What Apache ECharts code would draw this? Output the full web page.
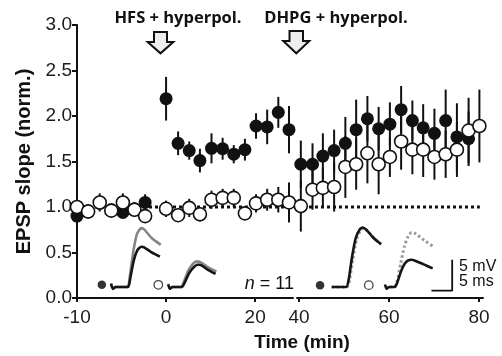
<!DOCTYPE html>
<html><head><meta charset="utf-8">
<script src="https://cdn.jsdelivr.net/npm/echarts@6/dist/echarts.min.js"></script>
<style>html,body{margin:0;padding:0;background:#fff}#c{width:502px;height:356px}</style>
</head><body><div id="c"></div>
<script>
// ---------------- data ----------------
// time (min) as labelled on the broken axis
const timesLeft = [-10,-8.75,-7.45,-6.15,-4.85,-3.55,-2.35,0,2.7,5.2,7.6,10.2,12.7,15.2,17.7,20.2,22.7,25.2,27.6];
const hfsLeft    = [0.90,0.96,1.04,0.97,0.94,0.98,1.05,2.19,1.70,1.62,1.51,1.645,1.64,1.58,1.63,1.89,1.88,2.04,1.85];
const hfsLeftErr = [0.06,0.06,0.06,0.06,0.06,0.06,0.09,0.24,0.13,0.10,0.13,0.165,0.12,0.10,0.12,0.14,0.19,0.17,0.26];
const ctlLeft    = [1.00,0.95,1.05,0.96,1.05,0.97,0.90,0.98,0.91,0.99,0.92,1.08,1.10,1.10,0.93,1.04,1.08,1.08,1.05];
const ctlLeftErr = [0.08,0.08,0.10,0.07,0.10,0.08,0.07,0.09,0.07,0.10,0.08,0.10,0.10,0.10,0.07,0.10,0.12,0.14,0.22];

const timesRight = [40.4,43,45.3,47.8,50.3,52.7,55.2,57.7,60.2,62.7,65.2,67.6,70.1,72.6,75.1,77.7,80.1];
const hfsRight    = [1.47,1.47,1.56,1.62,1.70,1.85,1.97,1.86,1.91,2.07,1.95,1.87,1.81,1.95,1.77,1.75,null];
const hfsRightErr = [0.26,0.23,0.25,0.23,0.29,0.33,0.25,0.24,0.24,0.26,0.22,0.26,0.27,0.34,0.37,0.30,null];
const ctlRight    = [1.01,1.19,1.21,1.22,1.44,1.47,1.59,1.47,1.55,1.72,1.63,1.63,1.55,1.58,1.63,1.84,1.89];
const ctlRightErr = [0.28,0.22,0.22,0.27,0.34,0.28,0.33,0.33,0.22,0.31,0.27,0.30,0.25,0.26,0.30,0.36,0.40];

const xTicksLeft = [-10, 0, 20];
const xTicksRight = [40, 60, 80];
const baseline = 1.0;

// inset EPSP traces: [ms, mV]
const trace1Gray  = [[0,0.6],[0.5,-0.3],[1.1,0],[4.0,0],[4.6,2.0],[5.4,5.8],[6.3,8.6],[7.3,9.5],[8.0,9.3],[9.8,7.9],[12.0,6.8]];
const trace1Black = [[0,0.5],[0.5,-0.3],[1.1,0],[4.1,0],[4.7,1.6],[5.5,4.3],[6.4,6.0],[7.3,6.5],[8.0,6.4],[9.8,5.6],[11.8,4.9]];
const trace2Gray  = [[0,0.5],[0.4,-0.3],[1.0,0],[3.1,0],[3.9,1.1],[4.8,2.6],[5.8,3.6],[6.6,4.1],[7.4,4.1],[9.3,3.3],[11.6,2.5]];
const trace2Black = [[0,0.4],[0.4,-0.3],[1.0,0],[3.3,0],[4.1,0.9],[5.0,2.2],[6.0,3.1],[7.0,3.6],[7.6,3.6],[9.3,2.9],[11.4,2.1]];
const trace3Black = [[0,0],[3.5,0],[4.1,1.2],[4.9,4.8],[5.8,7.9],[6.8,9.3],[7.5,9.6],[8.4,9.2],[10.1,7.9],[11.9,6.9]];
const trace3Gray  = [[0,0],[3.7,0],[4.3,1.1],[5.1,4.5],[6.0,7.7],[7.0,9.2],[7.7,9.5],[8.6,9.1],[10.2,7.9],[11.9,6.9]];
const trace4Gray  = [[0,0],[2.3,0],[3.0,1.1],[3.8,3.8],[4.7,6.6],[5.6,8.2],[6.4,8.8],[7.4,8.6],[9.5,7.5],[11.5,6.6]];
const trace4Black = [[0,0.4],[0.4,-0.3],[1.0,0],[2.4,0],[3.0,0.8],[3.8,2.4],[4.7,3.7],[5.6,4.3],[6.4,4.4],[7.4,4.2],[9.5,3.6],[11.5,3.0]];
const scaleBar = [[11.2,-0.6],[16.2,-0.6],[16.2,4.4]]; // 5 ms x 5 mV
const insetMarkers = [[-2.2,0.35],[-2.4,0.35],[-2.8,0.3],[-3.9,0.3]];

// ---------------- helpers ----------------
// broken axis: pre-HFS segment drawn at double scale
const toLeft = t => t < 0 ? t * 2 : t;
const fromLeft = d => d < 0 ? d / 2 : d;
const INK = '#111';
const labelFont = {fontFamily: 'Liberation Sans, Arial, sans-serif', fontSize: 19, color: '#1c1c1c'};

function pts(times, vals, map) {
  const out = [];
  times.forEach((t, i) => { if (vals[i] != null) out.push([map(t), vals[i]]); });
  return out;
}
function errSeries(ax, times, vals, errs, map) {
  const data = [];
  times.forEach((t, i) => { if (vals[i] != null) data.push([map(t), vals[i], errs[i]]); });
  return {
    type: 'custom', xAxisIndex: ax, yAxisIndex: ax, z: 1, silent: true, data,
    encode: {x: 0, y: 1},
    renderItem: (p, api) => {
      const x = api.value(0), v = api.value(1), e = api.value(2);
      const a = api.coord([x, v - e]), b = api.coord([x, v + e]);
      return {type: 'line', shape: {x1: a[0], y1: a[1], x2: b[0], y2: b[1]},
              style: {stroke: INK, lineWidth: 2}};
    }
  };
}
function dots(ax, data, filled) {
  return {
    type: 'scatter', xAxisIndex: ax, yAxisIndex: ax, data, symbol: 'circle', symbolSize: 13,
    z: filled ? 2 : 3, silent: true,
    itemStyle: filled ? {color: INK, opacity: 1} : {color: '#fff', borderColor: INK, borderWidth: 1.6, opacity: 1}
  };
}
function traceLine(ax, data, color, dashed) {
  return {
    type: 'line', xAxisIndex: ax, yAxisIndex: ax, data, showSymbol: false, symbol: 'none',
    smooth: 0.2, silent: true, z: 4,
    lineStyle: {color, width: dashed ? 3 : 2.6, type: dashed ? [2.5, 2.5] : 'solid', cap: 'butt'}
  };
}

// inset grids (pixel layout only)
const insetLefts = [92.3, 149.6, 313, 366.3];
const insetGrids = insetLefts.map(l => ({left: l, top: 225, width: 89.2, height: 68.2}));
const insetX = insetLefts.map((l, i) => ({type: 'value', gridIndex: 2 + i, min: -4.5, max: 17, show: false}));
const insetY = insetLefts.map((l, i) => ({type: 'value', gridIndex: 2 + i, min: -1, max: 10, show: false}));

const chart = echarts.init(document.getElementById('c'), null, {renderer: 'canvas'});

const option = {
  animation: false,
  backgroundColor: '#fff',
  grid: [
    {left: 77, top: 25, width: 216, height: 273},
    {left: 297, top: 25, width: 186, height: 273},
    ...insetGrids
  ],
  xAxis: [
    {type: 'value', gridIndex: 0, min: -20, max: 28.5,
     axisLine: {show: true, onZero: false, lineStyle: {color: INK, width: 2}},
     axisTick: {show: true, length: 4, lineStyle: {color: INK, width: 2}, customValues: xTicksLeft.map(toLeft)},
     axisLabel: Object.assign({margin: 10, customValues: xTicksLeft.map(toLeft),
       formatter: v => String(Math.round(fromLeft(v)))}, labelFont),
     splitLine: {show: false}},
    {type: 'value', gridIndex: 1, min: 39.55, max: 80.9,
     axisLine: {show: true, onZero: false, lineStyle: {color: INK, width: 2}},
     axisTick: {show: true, length: 4, lineStyle: {color: INK, width: 2}, customValues: xTicksRight},
     axisLabel: Object.assign({margin: 10, customValues: xTicksRight}, labelFont),
     splitLine: {show: false}},
    ...insetX
  ],
  yAxis: [
    {type: 'value', gridIndex: 0, min: 0, max: 3, interval: 0.5,
     axisLine: {show: true, onZero: false, lineStyle: {color: INK, width: 2}},
     axisTick: {show: true, length: 5, lineStyle: {color: INK, width: 2}},
     axisLabel: Object.assign({margin: 5, padding: [6, 0, 0, 0], formatter: v => v.toFixed(1)}, labelFont),
     splitLine: {show: false}},
    {type: 'value', gridIndex: 1, min: 0, max: 3, show: false},
    ...insetY
  ],
  series: [
    // baseline dotted line
    {type: 'line', xAxisIndex: 0, yAxisIndex: 0, data: [[-20, baseline], [28.5, baseline]], symbol: 'none', z: 0,
     lineStyle: {color: INK, width: 3, type: [3, 3]}, silent: true},
    {type: 'line', xAxisIndex: 1, yAxisIndex: 1, data: [[39.55, baseline], [80.2, baseline]], symbol: 'none', z: 0,
     lineStyle: {color: INK, width: 3, type: [3, 3]}, silent: true},
    errSeries(0, timesLeft, hfsLeft, hfsLeftErr, toLeft),
    errSeries(0, timesLeft, ctlLeft, ctlLeftErr, toLeft),
    errSeries(1, timesRight, hfsRight, hfsRightErr, t => t),
    errSeries(1, timesRight, ctlRight, ctlRightErr, t => t),
    dots(0, pts(timesLeft, hfsLeft, toLeft), true),
    dots(1, pts(timesRight, hfsRight, t => t), true),
    dots(0, pts(timesLeft, ctlLeft, toLeft), false),
    dots(1, pts(timesRight, ctlRight, t => t), false),
    // insets
    traceLine(2, trace1Gray, '#858585', false),
    traceLine(2, trace1Black, '#151515', false),
    traceLine(3, trace2Gray, '#858585', false),
    traceLine(3, trace2Black, '#151515', false),
    traceLine(4, trace3Gray, '#9a9a9a', true),
    traceLine(4, trace3Black, '#151515', false),
    traceLine(5, trace4Gray, '#9a9a9a', true),
    traceLine(5, trace4Black, '#151515', false),
    {type: 'line', xAxisIndex: 5, yAxisIndex: 5, data: scaleBar, symbol: 'none', silent: true,
     lineStyle: {color: INK, width: 1.8}},
    ...insetMarkers.map((m, i) => ({
      type: 'scatter', xAxisIndex: 2 + i, yAxisIndex: 2 + i, data: [m], symbolSize: 8.5, silent: true,
      itemStyle: (i % 2 === 0) ? {color: '#333', opacity: 1} : {color: '#fff', borderColor: '#444', borderWidth: 1.3, opacity: 1}
    }))
  ],
  graphic: [
    {type: 'polygon', shape: {points: [[154,32],[167,32],[167,42],[173.3,42],[160.5,53.3],[147.7,42],[154,42]]},
     style: {fill: '#eeeeee', stroke: INK, lineWidth: 2}},
    {type: 'polygon', shape: {points: [[289.5,31],[303,31],[303,41],[309.3,41],[296.3,53.3],[283.3,41],[289.5,41]]},
     style: {fill: '#eeeeee', stroke: INK, lineWidth: 2}},
    {type: 'text', x: 178, y: 18, style: {text: 'HFS + hyperpol.', fill: INK, textAlign: 'center', textVerticalAlign: 'middle',
      align: 'center', verticalAlign: 'middle', font: 'bold 16.5px "Open Sans", sans-serif'}},
    {type: 'text', x: 336, y: 18, style: {text: 'DHPG + hyperpol.', fill: INK, textAlign: 'center', textVerticalAlign: 'middle',
      align: 'center', verticalAlign: 'middle', font: 'bold 16.5px "Open Sans", sans-serif'}},
    {type: 'text', x: 24, y: 161.5, rotation: Math.PI / 2, style: {text: 'EPSP slope (norm.)', fill: INK,
      textAlign: 'center', textVerticalAlign: 'middle', align: 'center', verticalAlign: 'middle',
      font: 'bold 20px "Liberation Sans", Arial, sans-serif'}},
    {type: 'text', x: 302, y: 343, style: {text: 'Time (min)', fill: INK, textAlign: 'center', textVerticalAlign: 'middle',
      align: 'center', verticalAlign: 'middle', font: 'bold 19px "Liberation Sans", Arial, sans-serif'}},
    {type: 'text', x: 294, y: 284, style: {text: '{i|n} = 11', fill: INK, textAlign: 'right', textVerticalAlign: 'middle',
      align: 'right', verticalAlign: 'middle', font: '18px "Liberation Sans", Arial, sans-serif',
      rich: {i: {fontStyle: 'italic', fontSize: 18, fontFamily: 'Liberation Sans, Arial, sans-serif', fill: INK}}}},
    {type: 'text', x: 459, y: 266.5, style: {text: '5 mV', fill: INK, textAlign: 'left', textVerticalAlign: 'middle',
      align: 'left', verticalAlign: 'middle', font: '16px "Liberation Sans", Arial, sans-serif'}},
    {type: 'text', x: 459, y: 281.3, style: {text: '5 ms', fill: INK, textAlign: 'left', textVerticalAlign: 'middle',
      align: 'left', verticalAlign: 'middle', font: '16px "Liberation Sans", Arial, sans-serif'}}
  ]
};
chart.setOption(option);
</script>
</body></html>
